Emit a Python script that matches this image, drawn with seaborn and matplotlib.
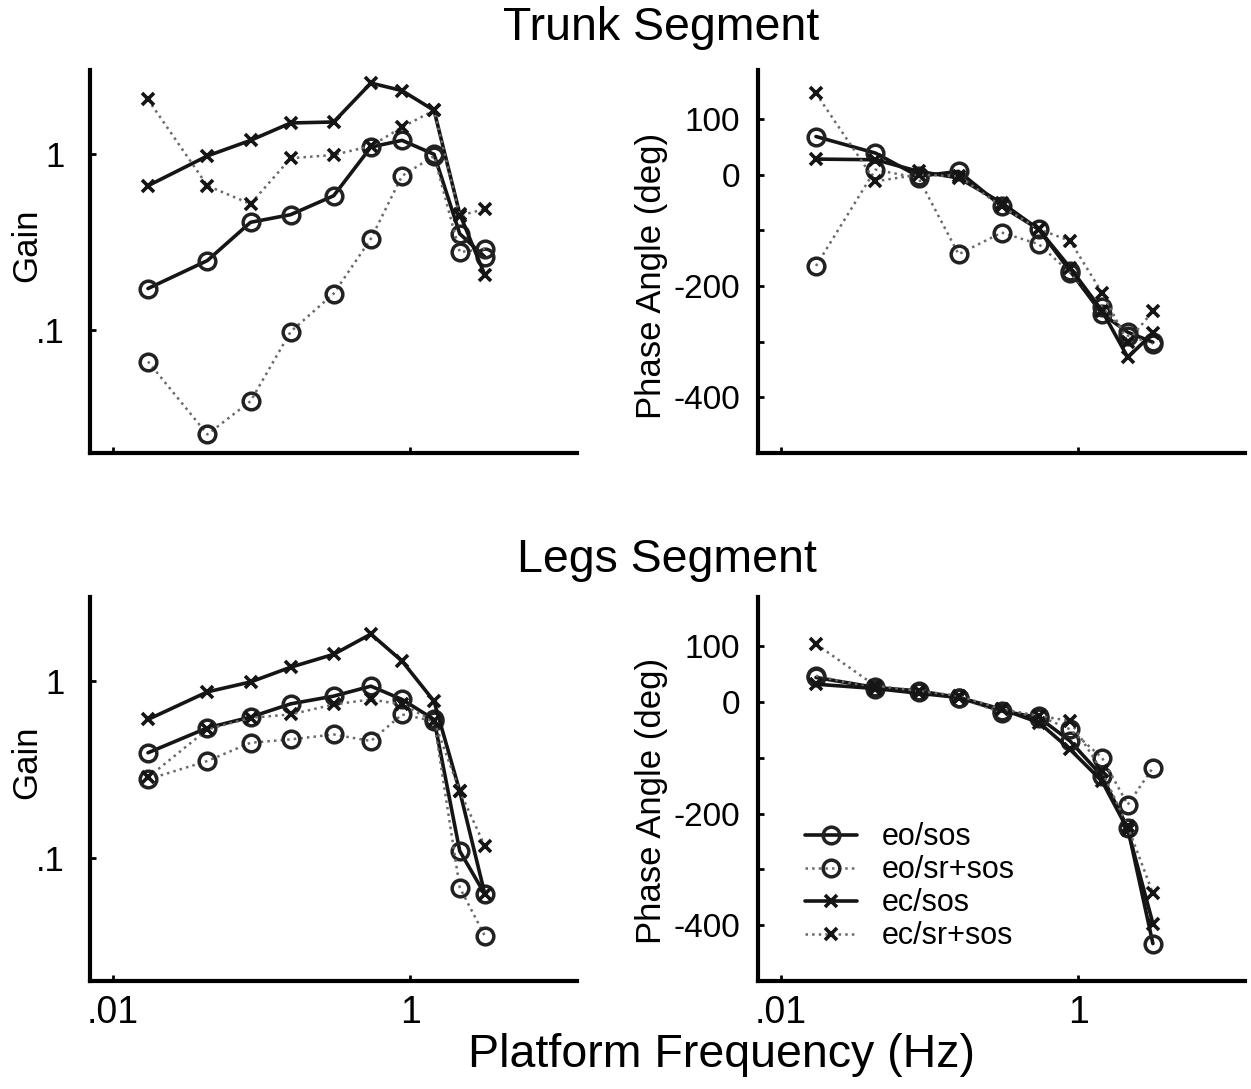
import numpy as np
import pandas as pd
import matplotlib
matplotlib.use("Agg")
import matplotlib.pyplot as plt
import seaborn as sns
from matplotlib.ticker import FixedLocator, FixedFormatter, NullLocator

# ---------------- data ----------------
freq = [0.0172, 0.0432, 0.0843, 0.157, 0.306, 0.545, 0.883, 1.45, 2.16, 3.19]
labels = ["eo/sos", "eo/sr+sos", "ec/sos", "ec/sr+sos"]

trunk_gain_eo_sos = [0.172, 0.248, 0.409, 0.452, 0.579, 1.095, 1.195, 0.996, 0.352, 0.26]
trunk_gain_eo_sr = [0.0662, 0.0255, 0.0394, 0.0978, 0.161, 0.33, 0.751, 0.974, 0.277, 0.289]
trunk_gain_ec_sos = [0.66, 0.975, 1.195, 1.50, 1.52, 2.53, 2.29, 1.77, 0.456, 0.205]
trunk_gain_ec_sr = [2.04, 0.66, 0.52, 0.946, 0.987, 1.11, 1.42, 1.77, 0.446, 0.487]

trunk_phase_eo_sos = [68.5, 38.8, -3, 5.9, -56.7, -98.4, -173, -250, -283, -301]
trunk_phase_eo_sr = [-164, 9, -6, -143, -104, -125, -176, -238, -289, -304]
trunk_phase_ec_sos = [28, 26.8, 5.9, -5.9, -50.6, -98.4, -167, -244.5, -328, -285]
trunk_phase_ec_sr = [146, -12, 0, -3, -57, -98, -119, -212, -300, -245]

legs_gain_eo_sos = [0.393, 0.544, 0.626, 0.744, 0.823, 0.937, 0.788, 0.607, 0.109, 0.062]
legs_gain_eo_sr = [0.278, 0.353, 0.448, 0.468, 0.499, 0.458, 0.648, 0.594, 0.0677, 0.036]
legs_gain_ec_sos = [0.607, 0.87, 0.99, 1.2, 1.42, 1.85, 1.30, 0.77, 0.238, 0.062]
legs_gain_ec_sr = [0.285, 0.533, 0.62, 0.648, 0.738, 0.788, 0.738, 0.594, 0.238, 0.116]

legs_phase_eo_sos = [43.9, 25.9, 19.8, 7.9, -16.2, -28, -70, -133, -226, -433]
legs_phase_eo_sr = [46.8, 24, 17, 7.9, -19, -25, -49, -100, -184, -118]
legs_phase_ec_sos = [31.8, 24, 15.6, 7.9, -13, -37, -85, -142, -229, -397]
legs_phase_ec_sr = [103.8, 28.8, 19.8, 10.8, -13, -25, -34, -124, -223, -343]

# ---------------- style ----------------
sns.set_theme(style="white")
plt.rcParams['font.family'] = ['Liberation Sans', 'DejaVu Sans']
plt.rcParams['axes.linewidth'] = 3.0
plt.rcParams['text.color'] = 'black'
plt.rcParams['axes.labelcolor'] = 'black'
plt.rcParams['xtick.color'] = 'black'
plt.rcParams['ytick.color'] = 'black'

styles = {
    "eo/sos": dict(marker='o', linestyle='-', color='#151515', linewidth=2.6,
                   markersize=12, markeredgewidth=2.5, markerfacecolor='none',
                   markeredgecolor='#222222'),
    "eo/sr+sos": dict(marker='o', linestyle=':', color='#6a6a6a', linewidth=1.8,
                      markersize=12, markeredgewidth=2.5, markerfacecolor='none',
                      markeredgecolor='#222222'),
    "ec/sos": dict(marker='x', linestyle='-', color='#151515', linewidth=2.6,
                   markersize=8, markeredgewidth=2.6, markeredgecolor='#151515'),
    "ec/sr+sos": dict(marker='x', linestyle=':', color='#6a6a6a', linewidth=1.8,
                      markersize=8, markeredgewidth=2.6, markeredgecolor='#151515'),
}

fig = plt.figure(figsize=(12.51, 10.89), dpi=100)

W, H = 1251, 1089
def rect(x0, y0, x1, y1):
    return [x0 / W, 1 - y1 / H, (x1 - x0) / W, (y1 - y0) / H]

ax_tg = fig.add_axes(rect(90, 70, 577, 453))
ax_tp = fig.add_axes(rect(758, 70, 1245, 453))
ax_lg = fig.add_axes(rect(90, 597, 577, 981))
ax_lp = fig.add_axes(rect(758, 597, 1245, 981))

panels = [
    (ax_tg, [trunk_gain_eo_sos, trunk_gain_eo_sr, trunk_gain_ec_sos, trunk_gain_ec_sr], 'gain', 0.543),
    (ax_tp, [trunk_phase_eo_sos, trunk_phase_eo_sr, trunk_phase_ec_sos, trunk_phase_ec_sr], 'phase', 0.462),
    (ax_lg, [legs_gain_eo_sos, legs_gain_eo_sr, legs_gain_ec_sos, legs_gain_ec_sr], 'gain', 0.57),
    (ax_lp, [legs_phase_eo_sos, legs_phase_eo_sr, legs_phase_ec_sos, legs_phase_ec_sr], 'phase', 0.468),
]

for ax, series, kind, ly in panels:
    for lab, vals in zip(labels, series):
        df = pd.DataFrame({"f": freq, "v": vals})
        sns.lineplot(data=df, x="f", y="v", ax=ax, label=lab, estimator=None,
                     sort=False, **styles[lab])
    if ax.get_legend() is not None:
        ax.get_legend().remove()
    ax.set_xscale('log')
    ax.set_xlim(0.007, 13.3)
    ax.xaxis.set_major_locator(FixedLocator([0.01, 1]))
    ax.xaxis.set_major_formatter(FixedFormatter(['.01', '1']))
    ax.xaxis.set_minor_locator(NullLocator())
    for s in ['top', 'right']:
        ax.spines[s].set_visible(False)
    for s in ['left', 'bottom']:
        ax.spines[s].set_color('black')
        ax.spines[s].set_linewidth(3.0)
    ax.tick_params(axis='x', direction='in', length=4, width=2, colors='black',
                   labelsize=27, pad=10, bottom=True)
    ax.set_xlabel('')
    if kind == 'gain':
        ax.set_yscale('log')
        ax.set_ylim(0.02, 3.0)
        ax.yaxis.set_major_locator(FixedLocator([0.1, 1]))
        ax.yaxis.set_major_formatter(FixedFormatter(['.1', '1']))
        ax.yaxis.set_minor_locator(NullLocator())
        ax.tick_params(axis='y', direction='in', length=4, width=2, colors='black',
                       labelsize=25, pad=18, left=True)
        ax.set_ylabel('Gain', fontsize=25)
        ax.yaxis.set_label_coords(-0.097, ly)
    else:
        ax.set_ylim(-500, 188)
        ticks = [-400, -300, -200, -100, 0, 100]
        ax.yaxis.set_major_locator(FixedLocator(ticks))
        ax.yaxis.set_major_formatter(FixedFormatter(['-400', '', '-200', '', '0', '100']))
        ax.tick_params(axis='y', direction='in', length=4, width=2, colors='black',
                       labelsize=24, pad=13, left=True)
        ax.set_ylabel('Phase Angle (deg)', fontsize=25)
        ax.yaxis.set_label_coords(-0.185, ly)
    ax.set_facecolor('white')

# top row: no x tick labels
for ax in (ax_tg, ax_tp):
    ax.tick_params(axis='x', labelbottom=False)

# legend in lower-right panel
handles, labs = ax_lp.get_legend_handles_labels()
ax_lp.legend(handles, labs, loc='upper left', bbox_to_anchor=(790 / W, 1 - 807 / H),
             bbox_transform=fig.transFigure, frameon=False, fontsize=22,
             handlelength=1.7, handletextpad=0.8, labelspacing=0.1, borderpad=0)

fig.text(661 / W, 1 - 28 / H, 'Trunk Segment', ha='center', va='center', fontsize=33.5)
fig.text(667 / W, 1 - 560 / H, 'Legs Segment', ha='center', va='center', fontsize=33.5)
fig.text(722 / W, 1 - 1055 / H, 'Platform Frequency (Hz)', ha='center', va='center', fontsize=33.5)

fig.savefig('out.png', dpi=100, facecolor='white')
